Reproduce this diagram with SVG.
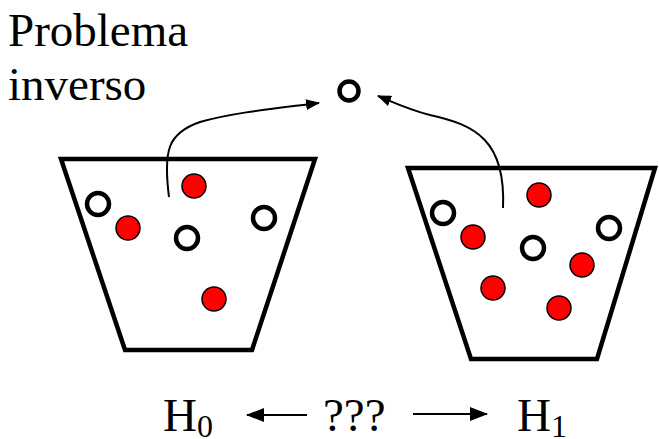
<svg xmlns="http://www.w3.org/2000/svg" width="659" height="439" viewBox="0 0 659 439">
<style>
.bucket{fill:none;stroke:#000;stroke-width:4.5;stroke-linejoin:miter}
.red{fill:#ff0000;stroke:#000;stroke-width:1.5}
.open{fill:#fff;stroke:#000;stroke-width:4.5}
.conn{fill:none;stroke:#000;stroke-width:2}
text{font-family:"Liberation Serif",Tinos,"Times New Roman",Times,"DejaVu Serif",serif;fill:#000}
</style>
<defs>
<marker id="ah" markerWidth="14" markerHeight="11" refX="13" refY="5.5" orient="auto" markerUnits="userSpaceOnUse" viewBox="0 0 14 11">
<path d="M0,0 L14,5.5 L0,11 z" fill="#000"/>
</marker>
<marker id="ah2" markerWidth="18" markerHeight="14" refX="17" refY="7" orient="auto" markerUnits="userSpaceOnUse" viewBox="0 0 18 14">
<path d="M0,0 L18,7 L0,14 z" fill="#000"/>
</marker>
</defs>
<rect width="659" height="439" fill="#fff"/>
<g id="title">
<text x="8" y="46" font-size="47" font-family="Liberation Serif, serif">Problema</text>
<text x="8" y="100" font-size="47" font-family="Liberation Serif, serif">inverso</text>
</g>
<g id="H0-bucket">
<polygon class="bucket" points="61,159 315,159 252,350 125,350"/>
<circle class="open" cx="98" cy="204" r="11"/>
<circle class="red" cx="128" cy="228" r="12"/>
<circle class="red" cx="194" cy="186" r="12"/>
<circle class="open" cx="187" cy="238" r="11"/>
<circle class="open" cx="264" cy="218" r="11"/>
<circle class="red" cx="214" cy="299" r="12"/>
</g>
<g id="H1-bucket">
<polygon class="bucket" points="408,168 655,168 597,359 471,359"/>
<circle class="open" cx="443" cy="213" r="11"/>
<circle class="red" cx="473" cy="237" r="12"/>
<circle class="red" cx="539" cy="195" r="12"/>
<circle class="open" cx="533" cy="248" r="11"/>
<circle class="open" cx="609" cy="228" r="11"/>
<circle class="red" cx="582" cy="265" r="12"/>
<circle class="red" cx="493" cy="288" r="12"/>
<circle class="red" cx="559" cy="308" r="12"/>
</g>
<g id="observation">
<circle class="open" cx="349" cy="91" r="9.5"/>
</g>
<g id="labels">
<text x="163" y="431" font-size="47" font-family="Liberation Serif, serif">H<tspan font-size="32" dy="6">0</tspan></text>
<text x="323" y="431" font-size="47" font-family="Liberation Serif, serif">???</text>
<text x="517" y="431" font-size="47" font-family="Liberation Serif, serif">H<tspan font-size="32" dy="6">1</tspan></text>
</g>
<g id="connectors">
<path class="conn" d="M169,197 C163,150 168,133 200,122 C235,112 280,108 319,103" marker-end="url(#ah)"/>
<path class="conn" d="M503,208 C506,140 475,125 430,115 C410,110 395,103 378,96" marker-end="url(#ah)"/>
<line x1="307" y1="415" x2="247" y2="415" stroke="#000" stroke-width="2" marker-end="url(#ah2)"/>
<line x1="413" y1="414" x2="487" y2="414" stroke="#000" stroke-width="2" marker-end="url(#ah2)"/>
</g>
</svg>
